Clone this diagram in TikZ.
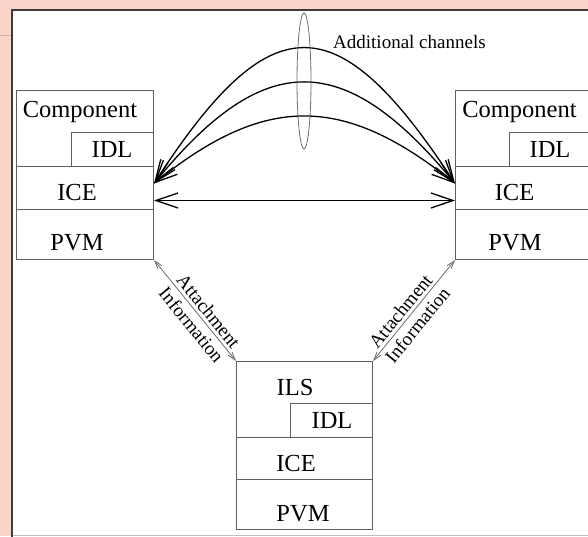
\documentclass[tikz,border=0pt]{standalone}
\usepackage{fontspec}
\setmainfont{Liberation Serif}
\usetikzlibrary{arrows.meta}
\definecolor{pinkbg}{RGB}{251,211,200}
\definecolor{panelgray}{RGB}{60,60,60}
\definecolor{boxgray}{RGB}{95,95,95}
\definecolor{linegray}{RGB}{110,110,110}
\tikzset{
  layer/.style={draw=boxgray, line width=1pt, inner sep=0pt, anchor=north west},
  lbl/.style={anchor=base, inner sep=0pt, font=\fontsize{24.5}{28}\selectfont},
  note/.style={font=\fontsize{19}{22}\selectfont},
  chan/.style={line width=1.3pt, {Straight Barb[length=22pt,width=15pt]}-{Straight Barb[length=22pt,width=15pt]}},
  attach/.style={draw=linegray, line width=0.8pt, {Straight Barb[length=8pt,width=5pt]}-{Straight Barb[length=8pt,width=5pt]}}
}
\begin{document}
\begin{tikzpicture}[x=1pt, y=-1pt]
        \useasboundingbox (0,0) rectangle (588,536);
        % background and panel
        \fill[pinkbg] (0,0) rectangle (588,536);
        \draw[pinkbg!85!black, line width=0.6pt] (0,35) -- (11,35);
        \fill[white] (12,10) rectangle (600,535);
        \draw[black!25, line width=1pt] (12,535) -- (600,535);
        \draw[panelgray, line width=2pt] (12,540) -- (12,10) -- (600,10);

        % left component
        \node[layer, minimum width=137pt, minimum height=76pt] (lcomp) at (16,90) {};
        \node[layer, minimum width=82pt, minimum height=34pt] (lidl) at (71,132) {};
        \node[layer, minimum width=137pt, minimum height=43pt] (lice) at (16,166) {};
        \node[layer, minimum width=137pt, minimum height=50pt] (lpvm) at (16,209) {};
        \node[lbl] (lcomptxt) at (80,117)  {Component};
        \node[lbl] (lidltxt)  at (112,157.5) {IDL};
        \node[lbl] (licetxt)  at (77,200)  {ICE};
        \node[lbl] (lpvmtxt)  at (77,250)  {PVM};

        % right component
        \node[layer, minimum width=137pt, minimum height=76pt] (rcomp) at (455,90) {};
        \node[layer, minimum width=83pt, minimum height=34pt] (ridl) at (509,132) {};
        \node[layer, minimum width=137pt, minimum height=43pt] (rice) at (455,166) {};
        \node[layer, minimum width=137pt, minimum height=50pt] (rpvm) at (455,209) {};
        \node[lbl] (rcomptxt) at (519.5,117) {Component};
        \node[lbl] (ridltxt)  at (550,157.5) {IDL};
        \node[lbl] (ricetxt)  at (514.5,200) {ICE};
        \node[lbl] (rpvmtxt)  at (515,250)   {PVM};

        % ILS
        \node[layer, minimum width=136pt, minimum height=76pt] (bils) at (236,361) {};
        \node[layer, minimum width=82pt, minimum height=34pt] (bidl) at (290,403) {};
        \node[layer, minimum width=136pt, minimum height=42pt] (bice) at (236,437) {};
        \node[layer, minimum width=136pt, minimum height=50pt] (bpvm) at (236,479) {};
        \node[lbl] (bilstxt) at (295,395) {ILS};
        \node[lbl] (bidltxt) at (332,428) {IDL};
        \node[lbl] (bicetxt) at (296,471) {ICE};
        \node[lbl] (bpvmtxt) at (303,521) {PVM};

        % channels between the components
        \coordinate (lch) at ([yshift=4.5pt]lice.east);
        \coordinate (rch) at ([yshift=4.5pt]rice.west);
        \coordinate (lhz) at ([yshift=-12.5pt]lice.east);
        \coordinate (rhz) at ([yshift=-12.5pt]rice.west);
        \draw[chan] (lhz) -- (rhz);
        \draw[chan] (lch) .. controls (271,3) and (337,3) .. (rch);
        \draw[chan] (lch) .. controls (264,48.7) and (344,48.7) .. (rch);
        \draw[chan] (lch) .. controls (265,94) and (343,94) .. (rch);
        \draw[linegray, line width=0.8pt] (304,81) ellipse [x radius=7, y radius=68];
        \node[note, anchor=base west, inner sep=0pt] (addl) at (333,48) {Additional channels};

        % attachment information
        \draw[attach] (lpvm.south east) -- node[note, sloped, above, pos=0.57, inner sep=3pt] (latt) {Attachment}
            node[note, sloped, below, pos=0.57, inner sep=4.5pt] (linf) {Information} (bils.north west);
        \draw[attach] (bils.north east) -- node[note, sloped, above, pos=0.43, inner sep=3pt] (ratt) {Attachment}
            node[note, sloped, below, pos=0.43, inner sep=4.5pt] (rinf) {Information} (rpvm.south west);
    \end{tikzpicture}
\end{document}
